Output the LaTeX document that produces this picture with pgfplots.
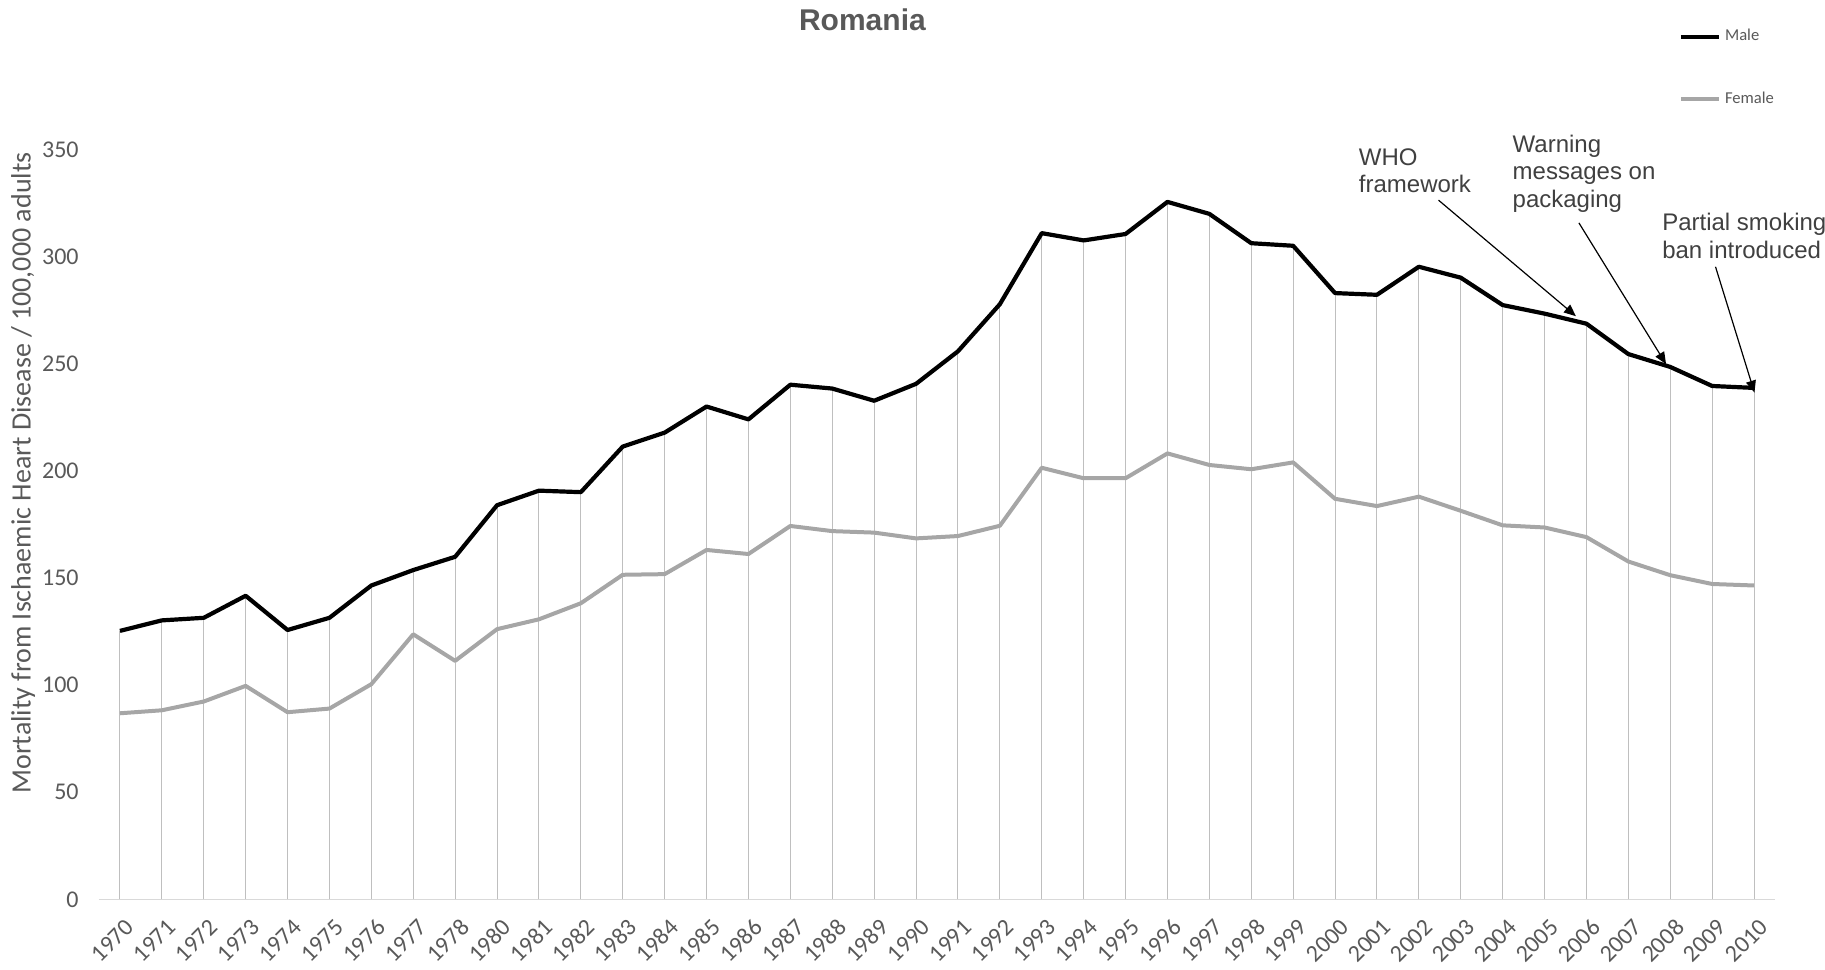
\documentclass[border=0pt]{standalone}
\usepackage{fontspec}
\setmainfont{Liberation Sans}
\newfontfamily\carlito{Carlito}
\usepackage{pgfplots}
\pgfplotsset{compat=1.18}
\usepackage{pgfplotstable}
\usetikzlibrary{arrows.meta}
\definecolor{txtgray}{HTML}{595959}
\definecolor{anngray}{HTML}{404040}
\definecolor{femgray}{HTML}{A6A6A6}
\definecolor{gridgray}{HTML}{BFBFBF}
\definecolor{axgray}{HTML}{D9D9D9}

\pgfplotstableread{
idx year male female
0 1970 125.4 86.9
1 1971 130.3 88.3
2 1972 131.5 92.4
3 1973 141.8 99.7
4 1974 125.8 87.4
5 1975 131.5 89.1
6 1976 146.6 100.5
7 1977 153.8 123.8
8 1978 160.0 111.4
9 1980 184.1 126.2
10 1981 190.9 130.8
11 1982 190.2 138.3
12 1983 211.5 151.6
13 1984 218.0 151.9
14 1985 230.2 163.2
15 1986 224.2 161.3
16 1987 240.4 174.4
17 1988 238.6 172.0
18 1989 232.9 171.3
19 1990 240.8 168.6
20 1991 256.0 169.7
21 1992 278.0 174.5
22 1993 311.2 201.6
23 1994 307.8 196.7
24 1995 310.8 196.7
25 1996 325.8 208.3
26 1997 320.2 202.9
27 1998 306.5 200.9
28 1999 305.3 204.1
29 2000 283.2 187.1
30 2001 282.4 183.7
31 2002 295.5 188.1
32 2003 290.4 181.5
33 2004 277.6 174.7
34 2005 273.6 173.7
35 2006 268.9 169.2
36 2007 254.7 157.8
37 2008 248.7 151.4
38 2009 239.8 147.3
39 2010 238.9 146.6
}\data

\begin{document}
\begin{tikzpicture}
\useasboundingbox (0,0) rectangle (912.5pt,484.5pt);
\begin{axis}[
  at={(49.5pt,34.85pt)}, anchor=south west,
  scale only axis, width=838pt, height=374.6pt,
  xmin=-0.5, xmax=39.5, ymin=0, ymax=350,
  clip=false,
  xtick={0,...,39},
  xticklabels={1970,1971,1972,1973,1974,1975,1976,1977,1978,1980,1981,1982,1983,1984,1985,1986,1987,1988,1989,1990,1991,1992,1993,1994,1995,1996,1997,1998,1999,2000,2001,2002,2003,2004,2005,2006,2007,2008,2009,2010},
  ytick={0,50,...,350},
  axis x line*=bottom, axis y line*=left,
  x axis line style={draw=axgray, line width=0.75pt},
  y axis line style={draw=none},
  major tick length=0pt,
  /pgf/number format/assume math mode=true,
  ticklabel style={font=\carlito\fontsize{12}{14}\selectfont, text=txtgray},
  yticklabel style={inner sep=0pt, xshift=-10pt, anchor=east},
  xticklabel style={inner sep=0pt, xshift=5pt, yshift=-12pt, rotate=45, anchor=east},
  every axis y label/.style={at={(axis description cs:-0.0452,0.569)}, rotate=90, anchor=center, font=\carlito\fontsize{14}{16}\selectfont, text=txtgray},
  ylabel={Mortality from Ischaemic Heart Disease / 100,000 adults},
  title={Romania},
  every axis title/.style={at={(axis description cs:0.4555,1.1739)}, anchor=center, font=\bfseries\fontsize{15}{18}\selectfont, text=txtgray},
  legend style={at={(axis description cs:0.9424,1.167)}, anchor=north west, draw=none, fill=none, inner sep=0pt, font=\carlito\fontsize{8.3}{10}\selectfont, text=txtgray, row sep=19.8pt},
  legend cell align=left,
  legend image code/.code={\draw[#1] (0pt,0pt) -- (19pt,0pt);},
]
\addplot[ycomb, draw=gridgray, line width=0.5pt, forget plot] table[x=idx, y=male] {\data};
\addplot[black, line width=2.1pt, line join=round] table[x=idx, y=male] {\data};
\addlegendentry{Male}
\addplot[femgray, line width=2pt, line join=round] table[x=idx, y=female] {\data};
\addlegendentry{Female}

\node[anchor=west, align=left, inner sep=0pt, font=\fontsize{12}{13.8}\selectfont, text=anngray] at (axis cs:29.56,340.35) {WHO\\framework};
\node[anchor=west, align=left, inner sep=0pt, font=\fontsize{12}{13.8}\selectfont, text=anngray] at (axis cs:33.23,339) {Warning\\messages on\\packaging};
\node[anchor=west, align=left, inner sep=0pt, font=\fontsize{12}{13.8}\selectfont, text=anngray] at (axis cs:36.8,310) {Partial smoking\\ban introduced};
\draw[-{Triangle[length=6pt,width=5pt]}, line width=0.6pt] (axis cs:31.47,326.6) -- (axis cs:34.75,272.4);
\draw[-{Triangle[length=6pt,width=5pt]}, line width=0.6pt] (axis cs:34.82,316.0) -- (axis cs:36.9,250.0);
\draw[-{Triangle[length=6pt,width=5pt]}, line width=0.6pt] (axis cs:38.08,295.5) -- (axis cs:39.01,236.7);
\end{axis}
\end{tikzpicture}
\end{document}
